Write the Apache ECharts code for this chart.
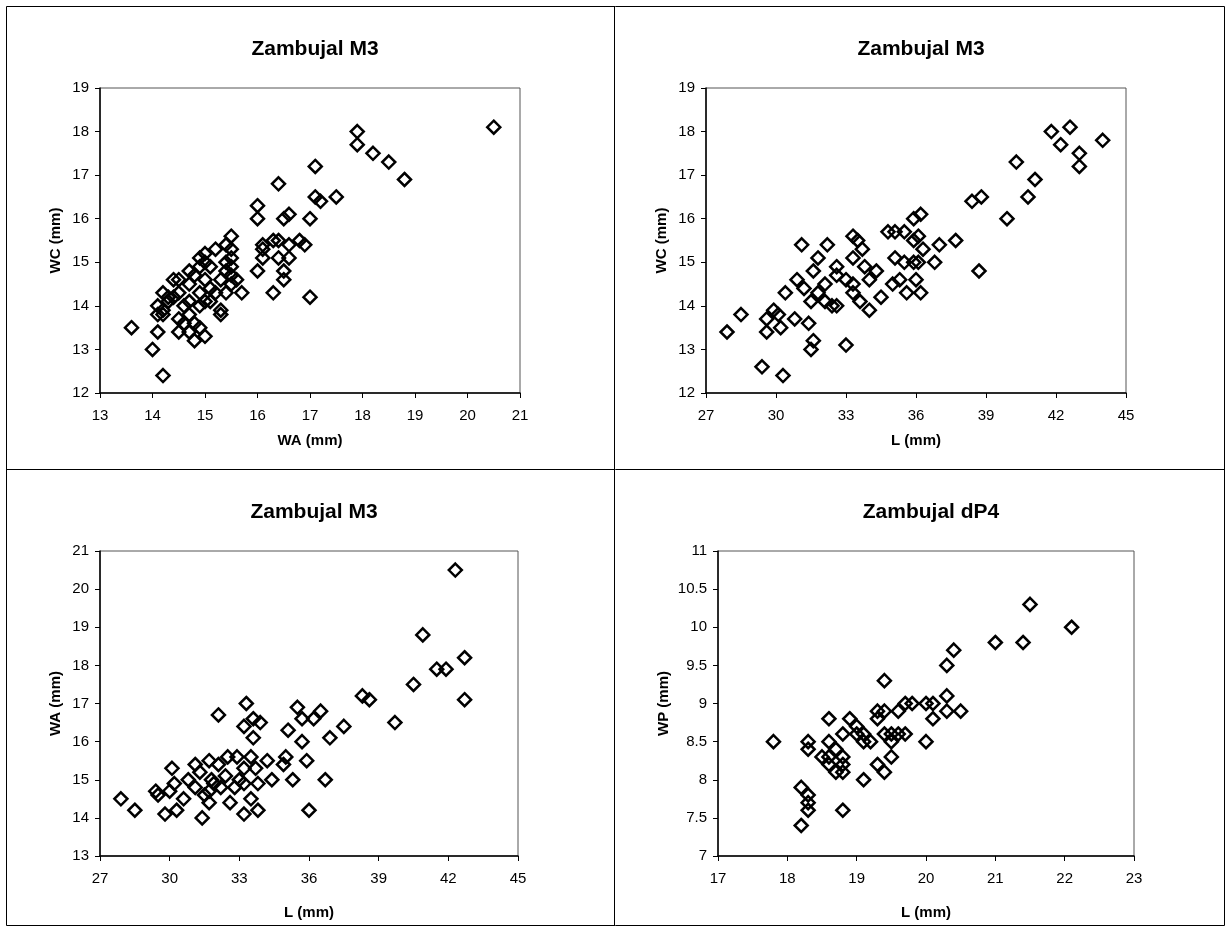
<!DOCTYPE html>
<html><head><meta charset="utf-8">
<script src="https://cdn.jsdelivr.net/npm/echarts/dist/echarts.min.js"></script>
<style>html,body{margin:0;padding:0;background:#fff}#c{width:1232px;height:930px}</style>
</head><body><div id="c"></div><script>
// Panel 1: WC (mm) vs WA (mm), Zambujal M3
const wcVsWa = [[13.6,13.5],[14.0,13.0],[14.1,13.4],[14.1,14.0],[14.1,13.8],[14.2,12.4],[14.2,14.3],[14.2,13.8],[14.2,13.9],[14.3,14.2],[14.3,14.1],[14.4,14.6],[14.4,14.2],[14.5,14.6],[14.5,14.3],[14.5,13.7],[14.5,13.4],[14.6,14.0],[14.6,13.6],[14.7,14.8],[14.7,14.5],[14.7,14.1],[14.7,13.8],[14.7,13.4],[14.8,13.2],[14.8,13.6],[14.8,14.7],[14.9,15.1],[14.9,14.9],[14.9,14.3],[14.9,13.5],[14.9,14.0],[15.0,15.2],[15.0,15.0],[15.0,14.6],[15.0,14.1],[15.0,13.3],[15.1,14.9],[15.1,14.1],[15.1,14.4],[15.2,15.3],[15.2,14.3],[15.3,13.9],[15.3,13.8],[15.3,14.6],[15.4,15.4],[15.4,14.3],[15.4,14.8],[15.4,15.0],[15.5,15.6],[15.5,15.3],[15.5,15.1],[15.5,14.9],[15.5,14.7],[15.5,14.5],[15.6,14.6],[15.7,14.3],[16.0,16.3],[16.0,16.0],[16.0,14.8],[16.1,15.4],[16.1,15.1],[16.1,15.3],[16.3,14.3],[16.3,15.5],[16.4,16.8],[16.4,15.5],[16.4,15.1],[16.5,16.0],[16.5,14.8],[16.5,14.6],[16.6,16.1],[16.6,15.4],[16.6,15.1],[16.8,15.5],[16.9,15.4],[17.0,16.0],[17.0,14.2],[17.1,17.2],[17.1,16.5],[17.2,16.4],[17.5,16.5],[17.9,18.0],[17.9,17.7],[18.2,17.5],[18.5,17.3],[18.8,16.9],[20.5,18.1]];
// Panel 2: WC (mm) vs L (mm), Zambujal M3
const wcVsL = [[27.9,13.4],[28.5,13.8],[29.4,12.6],[29.6,13.7],[29.6,13.4],[29.9,13.9],[30.1,13.8],[30.2,13.5],[30.3,12.4],[30.4,14.3],[30.8,13.7],[30.9,14.6],[31.1,15.4],[31.2,14.4],[31.4,13.6],[31.5,13.0],[31.6,13.2],[31.6,14.8],[31.5,14.1],[31.8,15.1],[31.8,14.3],[32.1,14.5],[32.1,14.1],[32.2,15.4],[32.4,14.0],[32.6,14.9],[32.6,14.7],[32.6,14.0],[33.0,13.1],[33.0,14.6],[33.3,15.6],[33.3,15.1],[33.3,14.5],[33.3,14.3],[33.5,15.5],[33.7,15.3],[33.6,14.1],[33.8,14.9],[34.0,14.6],[34.0,13.9],[34.3,14.8],[34.5,14.2],[34.8,15.7],[35.0,14.5],[35.1,15.7],[35.1,15.1],[35.3,14.6],[35.5,15.7],[35.5,15.0],[35.6,14.3],[35.9,15.0],[35.9,15.5],[35.9,16.0],[36.1,15.6],[36.2,16.1],[36.3,15.3],[36.1,15.0],[36.0,14.6],[36.2,14.3],[36.8,15.0],[37.0,15.4],[37.7,15.5],[38.4,16.4],[38.8,16.5],[38.7,14.8],[39.9,16.0],[40.3,17.3],[40.8,16.5],[41.1,16.9],[41.8,18.0],[42.2,17.7],[42.6,18.1],[43.0,17.5],[43.0,17.2],[44.0,17.8]];
// Panel 3: WA (mm) vs L (mm), Zambujal M3
const waVsL = [[27.9,14.5],[28.5,14.2],[29.4,14.7],[29.5,14.6],[29.8,14.1],[30.0,14.7],[30.1,15.3],[30.2,14.9],[30.3,14.2],[30.6,14.5],[30.8,15.0],[31.1,15.4],[31.3,15.2],[31.1,14.8],[31.4,14.0],[31.5,14.6],[31.7,15.5],[31.8,15.0],[31.9,14.9],[32.1,15.4],[32.1,16.7],[31.7,14.7],[31.7,14.4],[32.2,14.8],[32.4,15.1],[32.5,15.6],[32.6,14.4],[32.8,14.8],[32.9,15.6],[33.0,15.0],[33.2,16.4],[33.3,17.0],[33.6,16.6],[33.9,16.5],[33.6,16.1],[33.2,15.3],[33.2,14.9],[33.5,15.6],[33.7,15.3],[33.8,14.9],[33.2,14.1],[33.5,14.5],[33.8,14.2],[34.2,15.5],[34.4,15.0],[35.0,15.6],[34.9,15.4],[35.3,15.0],[35.1,16.3],[35.5,16.9],[35.7,16.6],[35.7,16.0],[36.0,14.2],[35.9,15.5],[36.5,16.8],[36.2,16.6],[36.9,16.1],[37.5,16.4],[36.7,15.0],[38.3,17.2],[38.6,17.1],[39.7,16.5],[40.5,17.5],[40.9,18.8],[41.5,17.9],[41.9,17.9],[42.7,18.2],[42.7,17.1],[42.3,20.5]];
// Panel 4: WP (mm) vs L (mm), Zambujal dP4
const wpVsL = [[17.8,8.5],[18.2,7.9],[18.2,7.4],[18.3,8.5],[18.3,8.4],[18.3,7.8],[18.3,7.7],[18.3,7.6],[18.5,8.3],[18.6,8.8],[18.6,8.5],[18.6,8.3],[18.6,8.2],[18.7,8.4],[18.7,8.1],[18.8,8.6],[18.8,8.3],[18.8,8.2],[18.8,8.1],[18.8,7.6],[18.9,8.8],[19.0,8.7],[19.0,8.6],[19.1,8.0],[19.1,8.6],[19.1,8.5],[19.2,8.5],[19.3,8.9],[19.3,8.8],[19.3,8.2],[19.4,9.3],[19.4,8.9],[19.4,8.6],[19.4,8.1],[19.5,8.5],[19.5,8.3],[19.5,8.6],[19.6,8.9],[19.6,8.6],[19.7,9.0],[19.7,8.6],[19.8,9.0],[20.0,9.0],[20.0,8.5],[20.1,9.0],[20.1,8.8],[20.3,9.1],[20.3,9.5],[20.3,8.9],[20.4,9.7],[20.5,8.9],[21.0,9.8],[21.4,9.8],[21.5,10.3],[22.1,10.0]];

const titles = ['Zambujal M3','Zambujal M3','Zambujal M3','Zambujal dP4'];
const xNames = ['WA (mm)','L (mm)','L (mm)','L (mm)'];
const yNames = ['WC (mm)','WC (mm)','WA (mm)','WP (mm)'];
const xRanges = [[13,21,1],[27,45,3],[27,45,3],[17,23,1]];
const yRanges = [[12,19,1],[12,19,1],[13,21,1],[7,11,0.5]];
const datasets = [wcVsWa, wcVsL, waVsL, wpVsL];

const FONT = '"Liberation Sans", Arial, Helvetica, sans-serif';
const grids = [
  {left:100, top:88, width:420, height:305},
  {left:706, top:88, width:420, height:305},
  {left:100, top:551, width:418, height:305},
  {left:718, top:551, width:416, height:305}
];
const yGap = [37,37,37,47];
const xGap = [40,40,49,49];

const option = {
  backgroundColor:'#fff',
  animation:false,
  title: grids.map((g,i)=>({
    text: titles[i], left: g.left + g.width/2, top: g.top - 54, textAlign:'center',
    textStyle:{fontFamily:FONT, fontSize:21, fontWeight:'bold', color:'#000'}
  })),
  grid: grids.map(g=>Object.assign({show:true, borderColor:'#555', borderWidth:1, backgroundColor:'#fff'}, g)),
  xAxis: grids.map((g,i)=>({
    type:'value', gridIndex:i, min:xRanges[i][0], max:xRanges[i][1], interval:xRanges[i][2],
    name:xNames[i], nameLocation:'middle', nameGap:xGap[i],
    nameTextStyle:{fontFamily:FONT, fontSize:15, fontWeight:'bold', color:'#000'},
    axisLine:{show:true, onZero:false, lineStyle:{color:'#000', width:1.5}},
    axisTick:{show:true, length:5, lineStyle:{color:'#000', width:1}},
    axisLabel:{fontFamily:FONT, fontSize:15, color:'#000', margin:15},
    splitLine:{show:false}
  })),
  yAxis: grids.map((g,i)=>({
    type:'value', gridIndex:i, min:yRanges[i][0], max:yRanges[i][1], interval:yRanges[i][2],
    name:yNames[i], nameLocation:'middle', nameGap:yGap[i], nameRotate:90,
    nameTextStyle:{fontFamily:FONT, fontSize:15, fontWeight:'bold', color:'#000'},
    axisLine:{show:true, onZero:false, lineStyle:{color:'#000', width:1.5}},
    axisTick:{show:true, length:5, lineStyle:{color:'#000', width:1}},
    axisLabel:{fontFamily:FONT, fontSize:15, color:'#000', margin:11},
    splitLine:{show:false}
  })),
  series: datasets.map((d,i)=>({
    type:'scatter', xAxisIndex:i, yAxisIndex:i, data:d,
    symbol:'diamond', symbolSize:13,
    itemStyle:{color:'rgba(255,255,255,0)', borderColor:'#000', borderWidth:2.5, opacity:1}
  })),
  graphic: [
    {type:'rect', shape:{x:6.5, y:6.5, width:1218, height:919}, style:{fill:null, stroke:'#000', lineWidth:1}, silent:true},
    {type:'line', shape:{x1:614.5, y1:6.5, x2:614.5, y2:925.5}, style:{stroke:'#000', lineWidth:1}, silent:true},
    {type:'line', shape:{x1:6.5, y1:469.5, x2:1224.5, y2:469.5}, style:{stroke:'#000', lineWidth:1}, silent:true}
  ]
};
const chart = echarts.init(document.getElementById('c'), null, {renderer:'canvas'});
chart.setOption(option);
</script></body></html>
